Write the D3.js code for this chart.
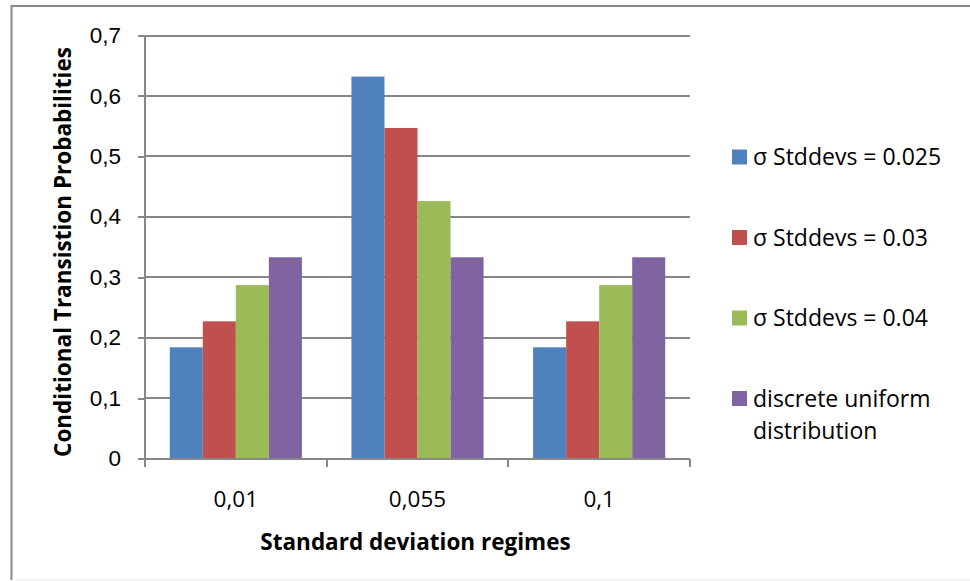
<!DOCTYPE html>
<html>
<head>
<meta charset="utf-8">
<style>
    body { margin: 0; background: #fff; }
    svg { font-family: "Open Sans", sans-serif; }
    .grid line { stroke: #878787; stroke-width: 2; shape-rendering: crispEdges; }
    .axis path, .axis line { stroke: #878787; stroke-width: 2; shape-rendering: crispEdges; }
    .axis text { font-size: 22.5px; fill: #000; }
    .title { font-weight: bold; font-size: 22.5px; fill: #000; }
    .legend text { font-size: 23px; fill: #000; }
</style>
</head>
<body>
<script src="https://d3js.org/d3.v7.min.js"></script>
<script>
    var categories = ["0,01", "0,055", "0,1"];
    var seriesNames = ["σ Stddevs = 0.025", "σ Stddevs = 0.03", "σ Stddevs = 0.04", "discrete uniform distribution"];
    var stddev025 = [0.184, 0.632, 0.184];
    var stddev03 = [0.227, 0.547, 0.227];
    var stddev04 = [0.287, 0.426, 0.287];
    var uniform = [0.333, 0.333, 0.333];
    var yTicks = [0, 0.1, 0.2, 0.3, 0.4, 0.5, 0.6, 0.7];
    var colors = ["#4F81BD", "#C0504D", "#9BBB59", "#8064A2"];

    var series = [stddev025, stddev03, stddev04, uniform];

    var width = 970, height = 581;
    var plotLeft = 145, plotRight = 690, plotTop = 35.5, plotBottom = 458.5;

    var svg = d3.select("body").append("svg")
        .attr("width", width)
        .attr("height", height);

    // chart frame (only top/left visible in the picture)
    svg.append("line").attr("x1", 11.5).attr("x2", width).attr("y1", 6).attr("y2", 6)
        .attr("stroke", "#898989").attr("stroke-width", 2);
    svg.append("line").attr("x1", 11.5).attr("x2", 11.5).attr("y1", 5).attr("y2", 580)
        .attr("stroke", "#898989").attr("stroke-width", 2);
    svg.append("line").attr("x1", 12).attr("x2", width).attr("y1", 580).attr("y2", 580)
        .attr("stroke", "#ececec").attr("stroke-width", 1);

    var x0 = d3.scaleBand().domain(categories).range([plotLeft, plotRight]).paddingInner(0);
    // excel gap width 150% -> group takes 4 of 5.5 bar widths
    var x1 = d3.scaleBand().domain(d3.range(series.length))
        .range([x0.bandwidth() * 0.75 / 5.5, x0.bandwidth() * (0.75 + 4) / 5.5]);

    var y = d3.scaleLinear().domain([0, 0.7]).range([plotBottom, plotTop]);

    // gridlines
    svg.append("g").attr("class", "grid")
        .selectAll("line").data(yTicks.slice(1)).enter().append("line")
        .attr("x1", plotLeft).attr("x2", plotRight)
        .attr("y1", function (d) { return y(d); })
        .attr("y2", function (d) { return y(d); });

    // bars
    var groups = svg.append("g").selectAll("g").data(categories).enter().append("g")
        .attr("transform", function (d) { return "translate(" + x0(d) + ",0)"; });

    groups.selectAll("rect")
        .data(function (d, i) { return series.map(function (s, k) { return { k: k, v: s[i] }; }); })
        .enter().append("rect")
        .attr("x", function (d) { return x1(d.k); })
        .attr("width", x1.bandwidth())
        .attr("y", function (d) { return y(d.v); })
        .attr("height", function (d) { return y(0) - y(d.v); })
        .attr("fill", function (d) { return colors[d.k]; });

    // y axis
    var yAxis = d3.axisLeft(y).tickValues(yTicks).tickSize(7).tickPadding(17)
        .tickFormat(function (d) { return d === 0 ? "0" : d3.format(".1f")(d).replace(".", ","); });
    svg.append("g").attr("class", "axis")
        .attr("transform", "translate(" + plotLeft + ",0)")
        .call(yAxis)
        .call(function (g) { g.select(".domain").attr("d", "M0," + plotTop + "V" + plotBottom); });

    // x axis with ticks at band boundaries
    var xAxisG = svg.append("g").attr("class", "axis")
        .attr("transform", "translate(0," + plotBottom + ")");
    xAxisG.append("line").attr("x1", plotLeft - 7).attr("x2", plotRight).attr("y1", 0).attr("y2", 0);
    xAxisG.selectAll(".tk").data(categories.concat(["end"])).enter().append("line")
        .attr("x1", function (d, i) { return plotLeft + i * x0.step(); })
        .attr("x2", function (d, i) { return plotLeft + i * x0.step(); })
        .attr("y1", 0).attr("y2", 8);
    xAxisG.selectAll("text").data(categories).enter().append("text")
        .attr("x", function (d) { return x0(d) + x0.bandwidth() / 2; })
        .attr("y", 48)
        .attr("text-anchor", "middle")
        .text(function (d) { return d; });

    // titles
    svg.append("text").attr("class", "title")
        .attr("x", (plotLeft + plotRight) / 2 - 2).attr("y", 550)
        .attr("text-anchor", "middle")
        .text("Standard deviation regimes");

    svg.append("text").attr("class", "title")
        .attr("transform", "translate(71," + 252 + ") rotate(-90)")
        .attr("text-anchor", "middle")
        .text("Conditional Transistion Probabilities");

    // legend
    var legendRows = [[seriesNames[0]], [seriesNames[1]], [seriesNames[2]], ["discrete uniform", "distribution"]];
    var legend = svg.append("g").attr("class", "legend")
        .selectAll("g").data(legendRows).enter().append("g")
        .attr("transform", function (d, i) { return "translate(732," + (157 + i * 80.5) + ")"; });
    legend.append("rect")
        .attr("x", 0).attr("y", -7.5).attr("width", 15).attr("height", 15)
        .attr("fill", function (d, i) { return colors[i]; });
    legend.append("text")
        .attr("x", 21).attr("y", 8)
        .selectAll("tspan").data(function (d) { return d; }).enter().append("tspan")
        .attr("x", 21)
        .attr("dy", function (d, i) { return i === 0 ? 0 : 32; })
        .text(function (d) { return d; });
</script>
</body>
</html>
